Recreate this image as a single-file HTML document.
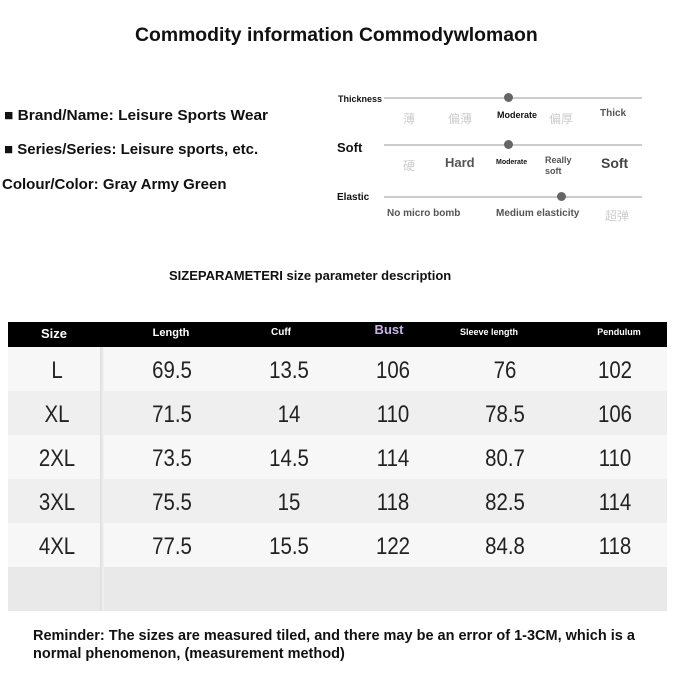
<!DOCTYPE html>
<html><head><meta charset="utf-8"><style>
body{margin:0;width:673px;height:673px;background:#fff;position:relative;overflow:hidden;font-family:"Liberation Sans","Noto Sans CJK SC",sans-serif;}
.a{position:absolute;white-space:nowrap;}
.b{font-weight:bold;color:#111;}
.line{position:absolute;height:2px;background:#ccc;}
.dot{position:absolute;width:9px;height:9px;border-radius:50%;background:#666;}
.g{color:#ccc;font-size:12px;}
.row{position:absolute;left:8px;width:659px;height:44px;}
.num{position:absolute;font-size:24px;color:#222;transform:translateX(-50%) scaleX(0.85);top:10px;}
.hd{position:absolute;top:327px;color:#fff;font-weight:bold;transform:translateX(-50%);font-size:11px;}
</style></head><body>
<div class="a b" style="left:135px;top:25px;font-size:19px;transform:scaleX(1.02);transform-origin:left;">Commodity information Commodywlomaon</div>
<div class="a b" style="left:4px;top:107px;font-size:15px;transform:scaleX(1.03);transform-origin:left;">■ Brand/Name: Leisure Sports Wear</div>
<div class="a b" style="left:4px;top:141px;font-size:15px;transform:scaleX(1.0);transform-origin:left;">■ Series/Series: Leisure sports, etc.</div>
<div class="a b" style="left:2px;top:176px;font-size:15px;transform:scaleX(1.0);transform-origin:left;">Colour/Color: Gray Army Green</div>

<div class="a b" style="left:338px;top:94px;font-size:9px;">Thickness</div>
<div class="line" style="left:384px;top:97px;width:258px;"></div>
<div class="dot" style="left:504px;top:93px;"></div>
<div class="a g" style="left:403px;top:110px;">薄</div>
<div class="a g" style="left:448px;top:110px;">偏薄</div>
<div class="a b" style="left:497px;top:110px;font-size:9px;">Moderate</div>
<div class="a g" style="left:549px;top:110px;">偏厚</div>
<div class="a b" style="left:600px;top:108px;font-size:10px;color:#555;">Thick</div>

<div class="a b" style="left:337px;top:140px;font-size:13px;">Soft</div>
<div class="line" style="left:384px;top:144px;width:258px;"></div>
<div class="dot" style="left:504px;top:140px;"></div>
<div class="a g" style="left:403px;top:157px;">硬</div>
<div class="a b" style="left:445px;top:155px;font-size:13px;color:#555;">Hard</div>
<div class="a b" style="left:496px;top:159px;font-size:7px;">Moderate</div>
<div class="a b" style="left:545px;top:155px;font-size:9px;color:#555;line-height:11px;">Really<br>soft</div>
<div class="a b" style="left:601px;top:155px;font-size:14px;color:#444;">Soft</div>

<div class="a b" style="left:337px;top:192px;font-size:10px;">Elastic</div>
<div class="line" style="left:384px;top:196px;width:258px;"></div>
<div class="dot" style="left:557px;top:192px;"></div>
<div class="a b" style="left:387px;top:208px;font-size:10px;color:#555;">No micro bomb</div>
<div class="a b" style="left:496px;top:208px;font-size:10px;color:#555;">Medium elasticity</div>
<div class="a g" style="left:605px;top:207px;">超弹</div>

<div class="a b" style="left:169px;top:268px;font-size:13px;">SIZEPARAMETERI size parameter description</div>

<div style="position:absolute;left:8px;top:322px;width:659px;height:25px;background:#000;"></div>
<div class="hd" style="left:54px;top:326px;font-size:13px;">Size</div>
<div class="hd" style="left:171px;">Length</div>
<div class="hd" style="left:281px;font-size:10px;">Cuff</div>
<div class="hd" style="left:389px;top:322px;font-size:13px;color:#c9b3e6;">Bust</div>
<div class="hd" style="left:489px;font-size:9px;">Sleeve length</div>
<div class="hd" style="left:619px;font-size:9px;">Pendulum</div>

<div class="row" style="top:347px;background:#f7f7f7;"></div>
<div class="row" style="top:391px;background:#efefef;"></div>
<div class="row" style="top:435px;background:#f7f7f7;"></div>
<div class="row" style="top:479px;background:#efefef;"></div>
<div class="row" style="top:523px;background:#f7f7f7;"></div>
<div class="row" style="top:567px;background:#e9e9e9;"></div>
<div style="position:absolute;left:100px;top:347px;width:4px;height:264px;background:linear-gradient(90deg,#ddd,#f3f3f3);"></div>

<div style="position:absolute;left:0;top:347px;width:673px;height:44px;">
<span class="num" style="left:57px">L</span><span class="num" style="left:172px">69.5</span><span class="num" style="left:289px">13.5</span><span class="num" style="left:393px">106</span><span class="num" style="left:505px">76</span><span class="num" style="left:615px">102</span></div>
<div style="position:absolute;left:0;top:391px;width:673px;height:44px;">
<span class="num" style="left:57px">XL</span><span class="num" style="left:172px">71.5</span><span class="num" style="left:289px">14</span><span class="num" style="left:393px">110</span><span class="num" style="left:505px">78.5</span><span class="num" style="left:615px">106</span></div>
<div style="position:absolute;left:0;top:435px;width:673px;height:44px;">
<span class="num" style="left:57px">2XL</span><span class="num" style="left:172px">73.5</span><span class="num" style="left:289px">14.5</span><span class="num" style="left:393px">114</span><span class="num" style="left:505px">80.7</span><span class="num" style="left:615px">110</span></div>
<div style="position:absolute;left:0;top:479px;width:673px;height:44px;">
<span class="num" style="left:57px">3XL</span><span class="num" style="left:172px">75.5</span><span class="num" style="left:289px">15</span><span class="num" style="left:393px">118</span><span class="num" style="left:505px">82.5</span><span class="num" style="left:615px">114</span></div>
<div style="position:absolute;left:0;top:523px;width:673px;height:44px;">
<span class="num" style="left:57px">4XL</span><span class="num" style="left:172px">77.5</span><span class="num" style="left:289px">15.5</span><span class="num" style="left:393px">122</span><span class="num" style="left:505px">84.8</span><span class="num" style="left:615px">118</span></div>

<div class="a b" style="left:33px;top:627px;font-size:14.5px;line-height:18px;">Reminder: The sizes are measured tiled, and there may be an error of 1-3CM, which is a<br>normal phenomenon, (measurement method)</div>
</body></html>
